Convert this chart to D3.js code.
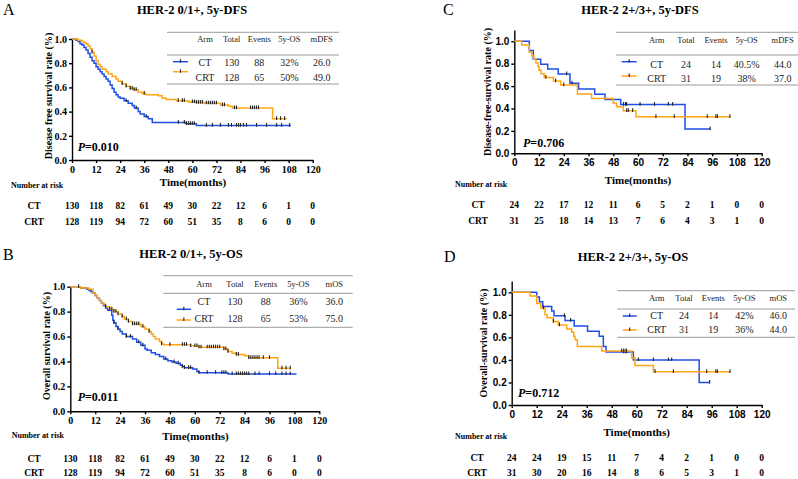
<!DOCTYPE html>
<html>
<head>
<meta charset="utf-8">
<script src="https://cdn.jsdelivr.net/npm/d3@7"></script>
<style>
  body { margin: 0; background: #fff; }
</style>
</head>
<body>
<svg id="chart" width="798" height="479"></svg>
<script>
// tick labels shared by all panels
const MONTHS = [0, 12, 24, 36, 48, 60, 72, 84, 96, 108, 120]
const SURV_TICKS = [0, 0.2, 0.4, 0.6, 0.8, 1.0]
const TABLE_HEAD_DFS = ["Arm", "Total", "Events", "5y-OS", "mDFS"]
const TABLE_HEAD_OS = ["Arm", "Total", "Events", "5y-OS", "mOS"]

// ---- Panel A: HER-2 0/1+, DFS ----
const aCtSteps = [[0,1],[2,0.99],[3,0.98],[4,0.96],[5,0.95],[6,0.93],[7,0.91],[8,0.88],[9,0.85],[10,0.82],[11,0.80],[12,0.77],[13,0.75],[14,0.73],[15,0.71],[16,0.69],[17,0.67],[18,0.65],[19,0.62],[20,0.59],[21,0.56],[22,0.54],[23,0.52],[24,0.51],[26,0.49],[28,0.47],[30,0.45],[31,0.43],[33,0.40],[34,0.38],[36,0.36],[38,0.34],[40,0.31],[57,0.30],[62,0.285]]
const aCtEnd = 109
const aCtCensor = [27, 32, 37, 53, 56, 57, 58, 59, 60, 61, 67, 70, 74, 78, 79.5, 82, 83, 84, 85.5, 87, 92, 97, 102, 104.5, 108.5]
const aCrtSteps = [[0,1],[3,0.99],[5,0.98],[6,0.97],[7,0.96],[8,0.94],[9,0.92],[10,0.89],[11,0.86],[12,0.82],[13,0.79],[14,0.77],[15,0.75],[17,0.73],[18,0.71],[20,0.69],[22,0.67],[23,0.65],[25,0.63],[27,0.61],[29,0.59],[31,0.58],[33,0.56],[35,0.55],[37,0.54],[43,0.53],[45,0.51],[47,0.50],[52,0.49],[58,0.48],[62,0.475],[66,0.47],[74,0.455],[78,0.445],[80,0.43],[100,0.34]]
const aCrtEnd = 107
const aCrtCensor = [10, 25, 27, 29, 30, 31, 32, 36, 53, 55, 56, 60, 61, 62, 63, 64, 65, 67, 68, 69, 70, 71, 72, 75, 76, 81, 82, 89, 90, 91, 92, 93, 102, 104, 106]
const aRiskCt = [130, 118, 82, 61, 49, 30, 22, 12, 6, 1, 0]
const aRiskCrt = [128, 119, 94, 72, 60, 51, 35, 8, 6, 0, 0]
const aRowCt = ["CT", "130", "88", "32%", "26.0"]
const aRowCrt = ["CRT", "128", "65", "50%", "49.0"]

// ---- Panel B: HER-2 0/1+, OS ----
const bCtSteps = [[0,1],[5,0.99],[8,0.98],[9,0.97],[10,0.96],[11,0.95],[12,0.93],[13,0.91],[14,0.89],[15,0.87],[16,0.85],[17,0.83],[18,0.81],[20,0.77],[20.5,0.73],[21,0.71],[22,0.68],[23,0.66],[24,0.64],[25,0.62],[27,0.60],[30,0.58],[32,0.555],[34,0.53],[36,0.50],[37,0.49],[39,0.47],[41,0.455],[43,0.44],[45,0.42],[47,0.405],[49,0.395],[51,0.385],[53,0.37],[54,0.36],[55,0.35],[59,0.34],[61,0.32],[62,0.31],[76,0.30]]
const bCtEnd = 109
const bCtCensor = [21, 23, 27, 29, 33, 35, 46, 50, 52, 54, 55, 57, 58, 62, 66, 70, 73, 74, 75, 78, 80, 81, 82, 83, 84, 85, 86, 89, 91, 96, 99, 102, 104, 106]
const bCrtSteps = [[0,1],[5,0.99],[9,0.98],[11,0.95],[12,0.93],[13,0.91],[14,0.89],[15,0.87],[16,0.86],[17,0.84],[19,0.82],[21,0.80],[23,0.78],[25,0.76],[26,0.74],[28,0.72],[30,0.70],[34,0.68],[36,0.66],[38,0.64],[39,0.62],[40,0.60],[41,0.58],[43,0.56],[44,0.54],[45,0.535],[58,0.525],[62,0.515],[74,0.50],[76,0.48],[78,0.465],[80,0.455],[84,0.445],[86,0.43],[100,0.345]]
const bCrtEnd = 106
const bCrtCensor = [4, 17, 19, 20, 21, 22, 23, 25, 27, 28, 30, 31, 32, 33, 35, 38, 44, 48, 54, 55, 56, 58, 60, 61, 62, 63, 66, 67, 68, 69, 70, 71, 72, 74, 75, 76, 80, 81, 86, 87, 88, 89, 90, 91, 93, 96, 102, 104, 106]
const bRiskCt = [130, 118, 82, 61, 49, 30, 22, 12, 6, 1, 0]
const bRiskCrt = [128, 119, 94, 72, 60, 51, 35, 8, 6, 0, 0]
const bRowCt = ["CT", "130", "88", "36%", "36.0"]
const bRowCrt = ["CRT", "128", "65", "53%", "75.0"]

// ---- Panel C: HER-2 2+/3+, DFS ----
const cCtSteps = [[0,1],[7.3,0.917],[9.2,0.84],[12.8,0.795],[16.2,0.753],[21.3,0.708],[27,0.625],[31.2,0.574],[39,0.527],[44,0.48],[51.6,0.435],[82.8,0.217]]
const cCtEnd = 95
const cCtCensor = [25.4, 28, 53, 54, 54.5, 61, 68, 74.7, 76.8, 95]
const cCrtSteps = [[0,1],[3.6,0.967],[7.3,0.903],[8.5,0.871],[9.5,0.839],[10.5,0.806],[11.5,0.774],[12,0.742],[13,0.71],[14.5,0.677],[19,0.645],[22.5,0.61],[30.6,0.53],[37.5,0.49],[48,0.45],[49.6,0.415],[52.9,0.38],[59,0.327]]
const cCrtEnd = 104.6
const cCrtCensor = [15.3, 20, 24, 54.5, 55.3, 57.4, 68.7, 77.6, 93.6, 97.8, 98.5, 104.6]
const cRiskCt = [24, 22, 17, 12, 11, 6, 5, 2, 1, 0, 0]
const cRiskCrt = [31, 25, 18, 14, 13, 7, 6, 4, 3, 1, 0]
const cRowCt = ["CT", "24", "14", "40.5%", "44.0"]
const cRowCrt = ["CRT", "31", "19", "38%", "37.0"]

// ---- Panel D: HER-2 2+/3+, OS ----
const dCtSteps = [[0,1],[12,0.958],[13.3,0.917],[14.9,0.875],[19.2,0.833],[20.3,0.792],[25.6,0.75],[30,0.70],[36.4,0.655],[42,0.61],[44,0.52],[45.3,0.47],[58.4,0.40],[90,0.20]]
const dCtEnd = 95
const dCtCensor = [25.3, 28.3, 53.6, 54.5, 55.2, 60.8, 68, 75.2, 76.8, 95]
const dCrtSteps = [[0,1],[8.8,0.967],[12,0.90],[14,0.86],[16,0.80],[17,0.775],[20,0.74],[22.4,0.71],[26.4,0.675],[28.8,0.645],[29.8,0.61],[30.4,0.58],[31.5,0.52],[43.2,0.48],[57.6,0.42],[59.2,0.35],[68,0.295]]
const dCrtEnd = 104.8
const dCrtCensor = [15.2, 20, 22.9, 52.8, 53.8, 55, 68.8, 77.6, 93.6, 98, 98.7, 104.8]
const dRiskCt = [24, 24, 19, 15, 11, 7, 4, 2, 1, 0, 0]
const dRiskCrt = [31, 30, 20, 16, 14, 8, 6, 5, 3, 1, 0]
const dRowCt = ["CT", "24", "14", "42%", "46.0"]
const dRowCrt = ["CRT", "31", "19", "36%", "44.0"]

const BLUE = "#1f4fe8"
const ORANGE = "#ffa514"
const SERIF = "'Liberation Serif','Times New Roman',serif"
const SANS = "'Liberation Sans',Arial,sans-serif"

const svg = d3.select("#chart")

const panels = [
  {
    letter: "A", letterPos: [3, 15], title: "HER-2 0/1+, 5y-DFS", titlePos: [192, 13.5],
    x0: 72, x1: 312.7, yb: 160, yt: 39, ymax: 1.0, tickFont: SERIF,
    yLabel: "Disease free survival rate (%)", yLabelPos: [51.5, 96],
    xLabelPos: [193, 186], risk: [11, 188, 34, 209.3, 225], pPos: [77.7, 150.7], p: "=0.010",
    ct: [aCtSteps, aCtEnd, aCtCensor, aRiskCt, aRowCt], crt: [aCrtSteps, aCrtEnd, aCrtCensor, aRiskCrt, aRowCrt],
    head: TABLE_HEAD_DFS,
    table: { x0: 167, x1: 339, lines: [32.3, 55, 84], head: 42.3, cols: [205, 231.7, 259.3, 289.3, 321.7], rows: [66, 81], sym: [173, 188], symY: [61.7, 71.7] }
  },
  {
    letter: "B", letterPos: [3, 260], title: "HER-2 0/1+, 5y-OS", titlePos: [191, 258.3],
    x0: 70.3, x1: 319.3, yb: 411.3, yt: 286.7, ymax: 1.0, tickFont: SERIF,
    yLabel: "Overall survival rate (%)", yLabelPos: [50, 346],
    xLabelPos: [195.5, 440], risk: [11.7, 438, 34, 461.7, 476], pPos: [77.7, 400.7], p: "=0.011",
    ct: [bCtSteps, bCtEnd, bCtCensor, bRiskCt, bRowCt], crt: [bCrtSteps, bCrtEnd, bCrtCensor, bRiskCrt, bRowCrt],
    head: TABLE_HEAD_OS,
    table: { x0: 163.3, x1: 352.7, lines: [275.7, 293.3, 327.3], head: 286.7, cols: [204, 235, 265.7, 298.3, 334.3], rows: [305, 321.7], sym: [176.7, 191], symY: [309.3, 320] }
  },
  {
    letter: "C", letterPos: [443, 15], title: "HER-2 2+/3+, 5y-DFS", titlePos: [640, 14],
    x0: 514.3, x1: 761.7, yb: 153.3, yt: 41.3, ymax: 1.1, tickFont: SANS,
    yLabel: "Disease-free-survival rate (%)", yLabelPos: [491, 92],
    xLabelPos: [638, 184], risk: [455, 187, 478, 208.3, 224], pPos: [523, 147.3], p: "=0.706",
    ct: [cCtSteps, cCtEnd, cCtCensor, cRiskCt, cRowCt], crt: [cCrtSteps, cCrtEnd, cCrtCensor, cRiskCrt, cRowCrt],
    head: TABLE_HEAD_DFS,
    table: { x0: 616, x1: 798, lines: [32.3, 55, 85], head: 42.7, cols: [656.7, 686, 716, 746.7, 782.7], rows: [68, 81.5], sym: [621.7, 636.7], symY: [61.7, 76] }
  },
  {
    letter: "D", letterPos: [444, 262], title: "HER-2 2+/3+, 5y-OS", titlePos: [633, 260.7],
    x0: 511.7, x1: 761.7, yb: 405, yt: 292.3, ymax: 1.1, tickFont: SANS,
    yLabel: "Overall-survival rate (%)", yLabelPos: [486.5, 343],
    xLabelPos: [636.7, 436], risk: [455, 439, 477, 460.7, 476], pPos: [518, 397.3], p: "=0.712",
    ct: [dCtSteps, dCtEnd, dCtCensor, dRiskCt, dRowCt], crt: [dCrtSteps, dCrtEnd, dCrtCensor, dRiskCrt, dRowCrt],
    head: TABLE_HEAD_OS,
    table: { x0: 617.3, x1: 795, lines: [290.7, 309, 337.3], head: 300.7, cols: [656.7, 684, 713.3, 744.3, 778.3], rows: [319.3, 333.3], sym: [622.7, 636.7], symY: [316, 330] }
  }
]

panels.forEach(drawPanel)

//survival value of a step curve at time t
function survAt(steps, t) {
  let s = steps[0][1]
  steps.forEach(d => { if (d[0] <= t) s = d[1] })
  return s
}

function drawPanel(p) {
  let g = svg.append("g")

  let x = d3.scaleLinear().domain([0, 120]).range([p.x0, p.x1])
  let y = d3.scaleLinear().domain([0, 1]).range([p.yb, p.yt])
  let yAxisScale = y.copy().domain([0, p.ymax]).range([p.yb, y(p.ymax)])

  // letter + title
  g.append("text").attr("x", p.letterPos[0]).attr("y", p.letterPos[1])
    .attr("font-family", SERIF).attr("font-size", 16).text(p.letter)
  g.append("text").attr("x", p.titlePos[0]).attr("y", p.titlePos[1])
    .attr("text-anchor", "middle").attr("font-family", SERIF).attr("font-size", 12.5)
    .attr("font-weight", "bold").text(p.title)

  // axes
  let xa = g.append("g").attr("transform", `translate(0,${p.yb})`)
    .call(d3.axisBottom(x).tickValues(MONTHS).tickSize(3).tickSizeOuter(0).tickPadding(3))
  let ya = g.append("g").attr("transform", `translate(${p.x0},0)`)
    .call(d3.axisLeft(yAxisScale).tickValues(SURV_TICKS).tickFormat(d3.format(".1f")).tickSize(3).tickSizeOuter(0).tickPadding(2))
  ;[xa, ya].forEach(a => {
    a.selectAll("path,line").attr("stroke", "#000").attr("stroke-width", 1.4)
    a.selectAll("text").attr("font-family", p.tickFont).attr("font-size", 10)
      .attr("font-weight", "bold").attr("fill", "#000")
  })

  // axis labels
  g.append("text").attr("transform", `translate(${p.yLabelPos[0]},${p.yLabelPos[1]}) rotate(-90)`)
    .attr("text-anchor", "middle").attr("font-family", SERIF).attr("font-size", 10)
    .attr("font-weight", "bold").text(p.yLabel)
  g.append("text").attr("x", p.xLabelPos[0]).attr("y", p.xLabelPos[1])
    .attr("text-anchor", "middle").attr("font-family", SERIF).attr("font-size", 11)
    .attr("font-weight", "bold").text("Time(months)")

  // curves
  let line = d3.line().x(d => x(d[0])).y(d => y(d[1])).curve(d3.curveStepAfter)
  ;[[p.ct, BLUE], [p.crt, ORANGE]].forEach(([arm, color]) => {
    let steps = arm[0], end = arm[1], censor = arm[2]
    let pts = steps.concat([[end, steps[steps.length - 1][1]]])
    g.append("path").datum(pts).attr("d", line)
      .attr("fill", "none").attr("stroke", color).attr("stroke-width", 1.5)
    g.selectAll(null).data(censor).enter().append("line")
      .attr("x1", d => x(d)).attr("x2", d => x(d))
      .attr("y1", d => y(survAt(steps, d)) - 2.5).attr("y2", d => y(survAt(steps, d)) + 1.2)
      .attr("stroke", "#222").attr("stroke-width", 1.1)
  })

  // P value
  let pt = g.append("text").attr("x", p.pPos[0]).attr("y", p.pPos[1])
    .attr("font-family", SERIF).attr("font-size", 12).attr("font-weight", "bold")
  pt.append("tspan").attr("font-style", "italic").text("P")
  pt.append("tspan").text(p.p)

  // summary table
  let t = p.table
  t.lines.forEach(ly => {
    g.append("line").attr("x1", t.x0).attr("x2", t.x1).attr("y1", ly).attr("y2", ly)
      .attr("stroke", "#9a9a9a").attr("stroke-width", 1)
  })
  g.selectAll(null).data(p.head).enter().append("text")
    .attr("x", (d, i) => t.cols[i]).attr("y", t.head).attr("text-anchor", "middle")
    .attr("font-family", SERIF).attr("font-size", 8.5).attr("fill", "#222").text(d => d)
  ;[p.ct[4], p.crt[4]].forEach((row, r) => {
    g.selectAll(null).data(row).enter().append("text")
      .attr("x", (d, i) => t.cols[i]).attr("y", t.rows[r]).attr("text-anchor", "middle")
      .attr("font-family", SERIF).attr("font-size", 10).attr("fill", "#222").text(d => d)
  })
  ;[BLUE, ORANGE].forEach((color, r) => {
    let sy = t.symY[r]
    g.append("line").attr("x1", t.sym[0]).attr("x2", t.sym[1]).attr("y1", sy).attr("y2", sy)
      .attr("stroke", color).attr("stroke-width", 1.5)
    let mx = (t.sym[0] + t.sym[1]) / 2
    g.append("line").attr("x1", mx).attr("x2", mx).attr("y1", sy - 2.5).attr("y2", sy + 1)
      .attr("stroke", "#222").attr("stroke-width", 1.1)
  })

  // number at risk
  let rk = p.risk
  g.append("text").attr("x", rk[0]).attr("y", rk[1])
    .attr("font-family", SERIF).attr("font-size", 8).attr("font-weight", "bold").text("Number at risk")
  ;[["CT", p.ct[3], rk[3]], ["CRT", p.crt[3], rk[4]]].forEach(([name, counts, by]) => {
    g.append("text").attr("x", rk[2]).attr("y", by).attr("text-anchor", "middle")
      .attr("font-family", SERIF).attr("font-size", 9.5).attr("font-weight", "bold").text(name)
    g.selectAll(null).data(counts).enter().append("text")
      .attr("x", (d, i) => x(MONTHS[i])).attr("y", by).attr("text-anchor", "middle")
      .attr("font-family", SERIF).attr("font-size", 9.5).attr("font-weight", "bold").text(d => d)
  })
}
</script>
</body>
</html>
